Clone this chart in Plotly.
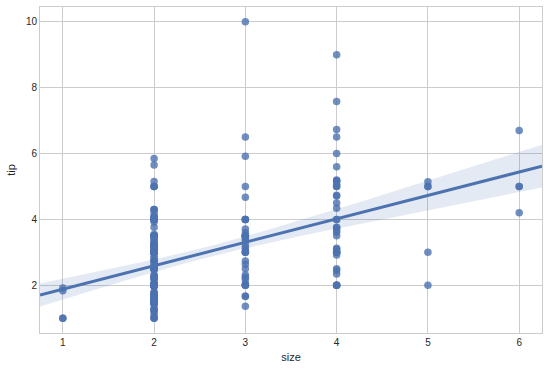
import numpy as np
import plotly.graph_objects as go

# Tips by party size
tips_size1 = [1.0, 1.83, 1.0, 1.92]
tips_size2 = [1.01, 3.31, 2.0, 1.96, 3.23, 1.71, 1.57, 3.02, 3.92, 4.08, 2.75, 2.23, 3.18,
              2.0, 2.0, 4.3, 3.0, 1.45, 3.0, 3.27, 2.54, 3.06, 1.32, 3.0, 5.0, 3.0, 2.5,
              2.6, 1.56, 3.51, 1.5, 1.76, 3.21, 2.0, 1.98, 2.47, 2.01, 2.09, 1.97, 3.14,
              5.0, 2.2, 1.25, 3.08, 3.0, 2.71, 3.0, 3.4, 5.0, 2.03, 2.0, 4.0, 5.85, 3.0,
              3.0, 3.5, 1.0, 4.3, 3.25, 4.0, 1.5, 3.0, 1.5, 2.5, 3.0, 3.48, 4.08, 1.64,
              4.06, 4.29, 3.76, 4.0, 3.0, 2.55, 3.5, 1.5, 1.8, 2.31, 1.68, 2.5, 2.0, 2.52,
              1.48, 2.0, 2.0, 1.5, 2.83, 1.5, 2.0, 3.25, 1.25, 2.0, 2.0, 2.0, 2.75, 3.5,
              2.3, 1.5, 1.63, 1.73, 2.0, 2.5, 2.0, 2.61, 2.5, 2.0, 3.0, 2.24, 1.61, 2.0,
              3.16, 5.15, 3.18, 4.0, 3.11, 2.0, 2.0, 4.0, 3.55, 5.65, 3.0, 1.5, 4.19, 2.56,
              2.02, 4.0, 1.44, 2.0, 2.0, 2.0, 2.01, 2.0, 2.5, 2.03, 2.23, 2.5, 1.1, 1.5,
              1.44, 2.2, 3.48, 1.58, 2.5, 2.0, 2.72, 2.88, 3.39, 1.47, 3.0, 1.25, 1.0,
              1.17, 2.0, 2.0, 1.75, 3.0]
tips_size3 = [1.66, 3.5, 1.67, 3.71, 3.5, 3.35, 3.6, 2.0, 3.07, 2.31, 5.0, 2.24, 2.05,
              2.64, 3.15, 3.0, 2.5, 4.0, 4.0, 2.18, 1.36, 2.74, 2.0, 3.48, 10.0, 3.5,
              3.5, 3.5, 4.0, 4.0, 3.23, 3.41, 2.0, 6.5, 3.0, 3.0, 4.67, 5.92]
tips_size4 = [3.61, 4.71, 3.12, 5.0, 3.0, 7.58, 2.34, 2.5, 2.45, 5.6, 6.0, 5.2, 4.34,
              3.0, 6.73, 3.76, 4.0, 5.17, 4.73, 5.07, 2.92, 2.0, 2.0, 3.75, 2.0, 3.5,
              4.5, 3.68, 6.5, 5.0, 4.0, 3.0, 5.16, 9.0, 3.09, 3.0, 2.0]
tips_size5 = [5.0, 5.14, 5.0, 2.0, 3.0]
tips_size6 = [4.2, 6.7, 5.0, 5.0]

groups = [(1, tips_size1), (2, tips_size2), (3, tips_size3),
          (4, tips_size4), (5, tips_size5), (6, tips_size6)]
size = np.concatenate([[s] * len(t) for s, t in groups]).astype(float)
tip = np.concatenate([t for _, t in groups]).astype(float)

x_range = [0.75, 6.25]
y_range = [0.55, 10.45]

# Linear fit and 95% CI of the mean prediction
n = len(size)
slope, intercept = np.polyfit(size, tip, 1)
xg = np.linspace(x_range[0], x_range[1], 100)
yg = intercept + slope * xg
resid = tip - (intercept + slope * size)
s_err = np.sqrt(np.sum(resid ** 2) / (n - 2))
sxx = np.sum((size - size.mean()) ** 2)
se = s_err * np.sqrt(1.0 / n + (xg - size.mean()) ** 2 / sxx)
tcrit = 2.1
lo = yg - tcrit * se
hi = yg + tcrit * se

blue = "#4C72B0"
fig = go.Figure()
fig.add_trace(go.Scatter(x=size, y=tip, mode="markers",
                         marker=dict(color=blue, size=7.5, opacity=0.8, line=dict(width=0)),
                         showlegend=False, hoverinfo="x+y"))
fig.add_trace(go.Scatter(x=np.concatenate([xg, xg[::-1]]), y=np.concatenate([hi, lo[::-1]]),
                         fill="toself", fillcolor="rgba(76,114,176,0.15)",
                         line=dict(width=0), mode="lines", showlegend=False, hoverinfo="skip"))
fig.add_trace(go.Scatter(x=xg, y=yg, mode="lines", line=dict(color=blue, width=3),
                         showlegend=False))

axis_common = dict(showgrid=True, gridcolor="#cccccc", gridwidth=1, showline=True,
                   linecolor="#cccccc", linewidth=1, mirror=True, zeroline=False,
                   ticks="", tickfont=dict(size=10, color="#262626"))
fig.update_xaxes(range=x_range, tickvals=[1, 2, 3, 4, 5, 6],
                 title=dict(text="size", font=dict(size=11, color="#262626"), standoff=6),
                 **axis_common)
fig.update_yaxes(range=y_range, tickvals=[2, 4, 6, 8, 10],
                 title=dict(text="tip", font=dict(size=11, color="#262626"), standoff=8),
                 **axis_common)
fig.update_layout(width=548, height=370, margin=dict(l=40, r=6, t=7, b=37),
                  paper_bgcolor="white", plot_bgcolor="white",
                  font=dict(family="Arial, Liberation Sans, sans-serif"))
fig.write_html("out.html", config={"displayModeBar": False},
               post_script="document.body.style.margin='0';")
